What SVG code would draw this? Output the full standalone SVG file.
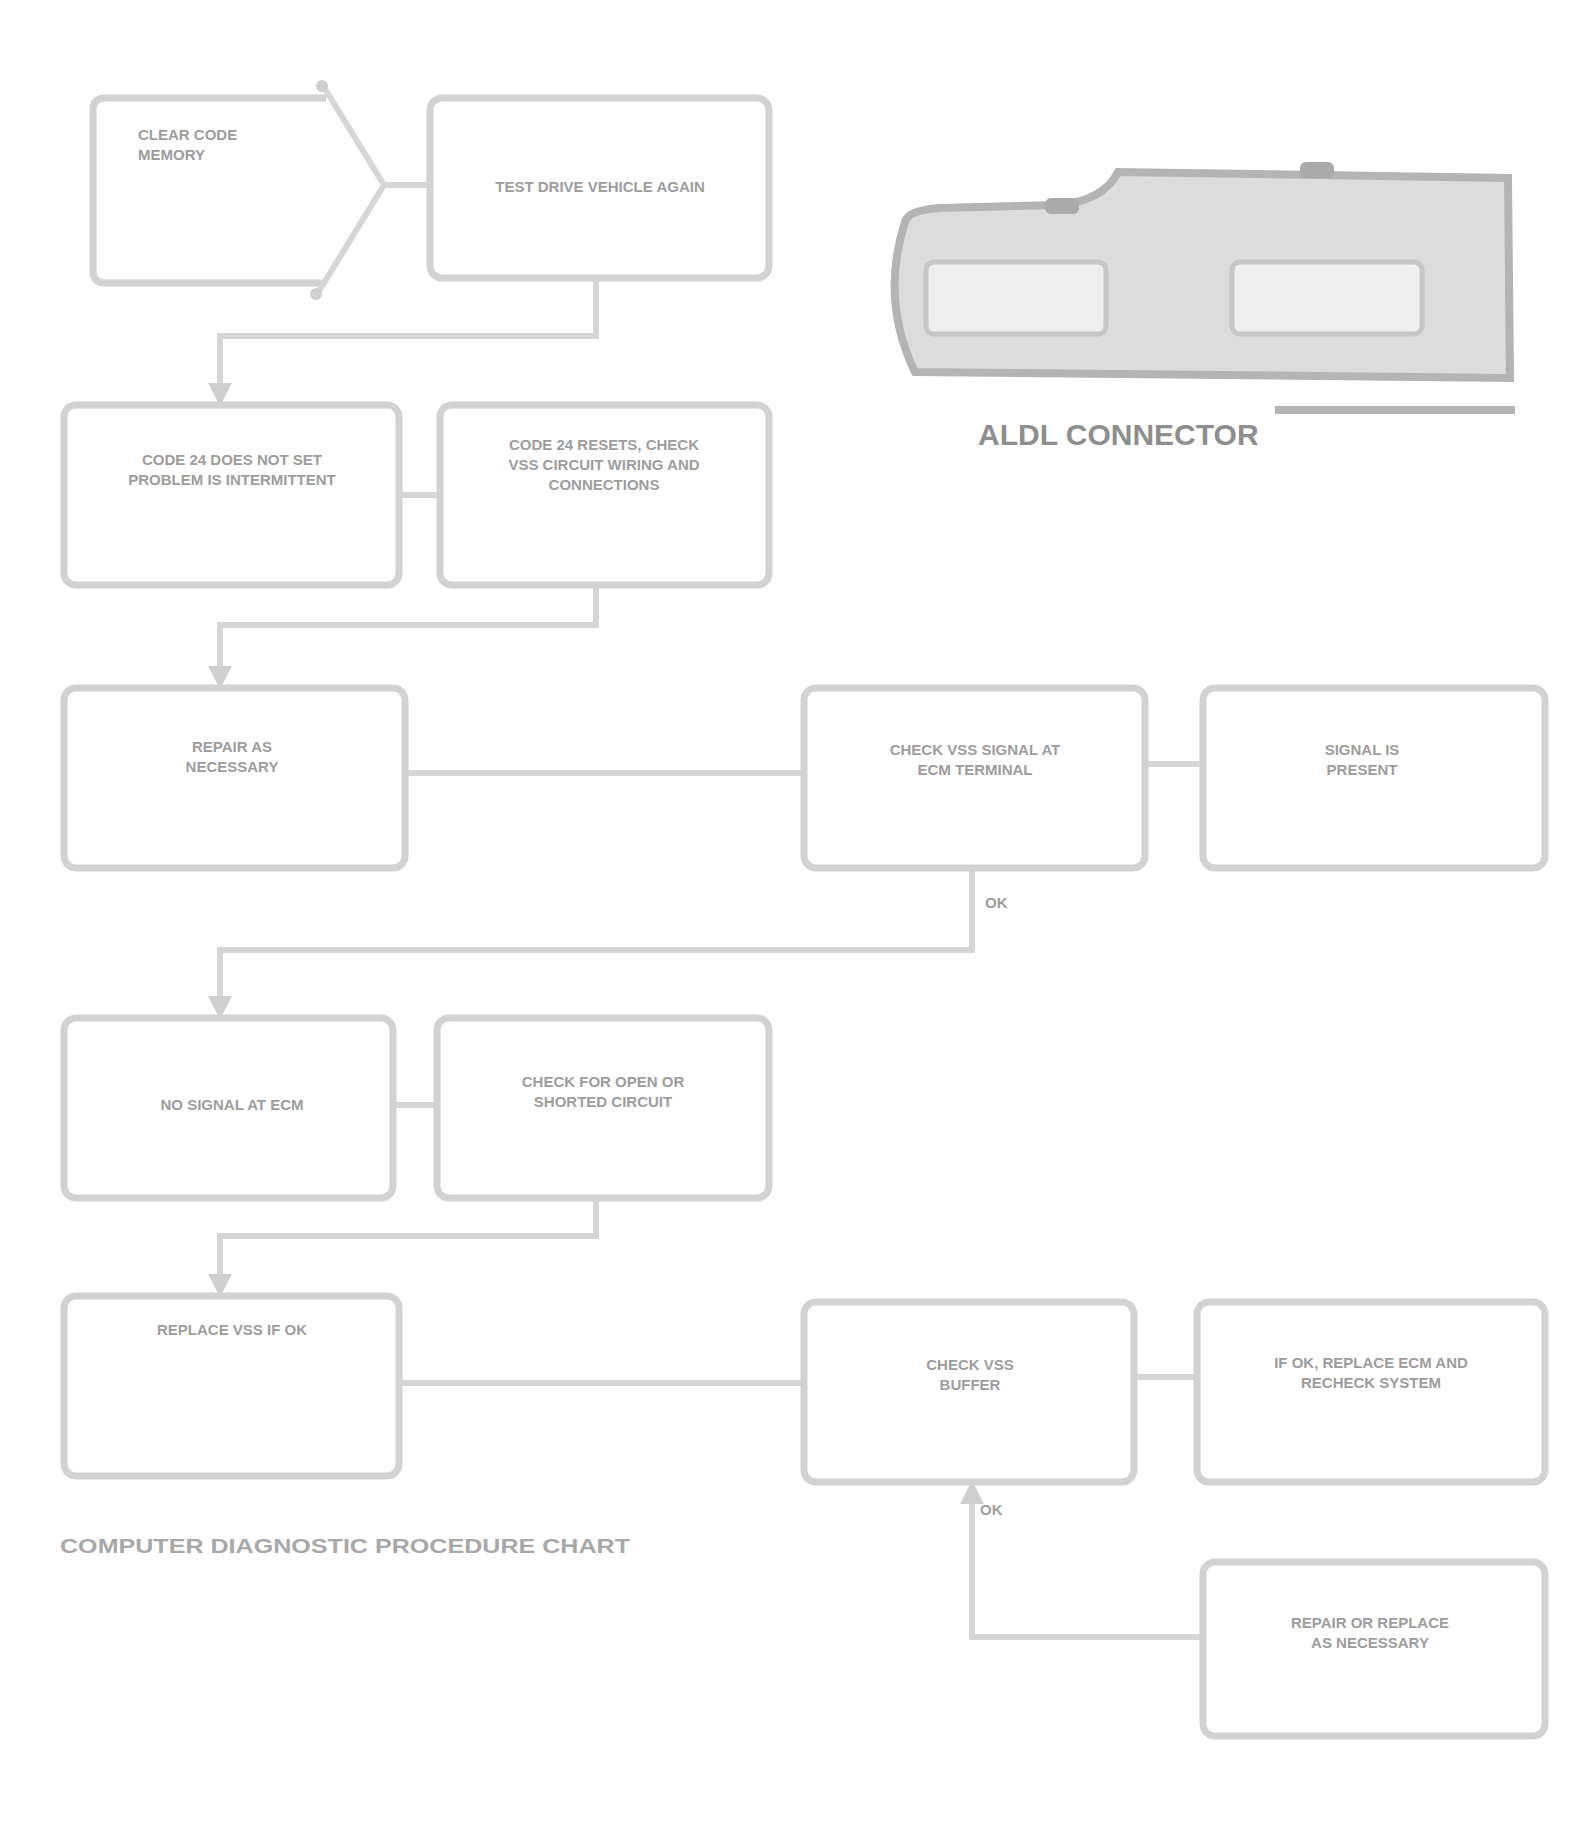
<svg xmlns="http://www.w3.org/2000/svg" width="1587" height="1821" viewBox="0 0 1587 1821">
<style>
.box{fill:#ffffff;stroke:#d2d2d2;stroke-width:7}
.ln{fill:none;stroke:#d6d6d6;stroke-width:6}
.t{font-family:"Liberation Sans",Arial,sans-serif;font-weight:bold;font-size:15px;fill:#9d9d9d;text-anchor:middle}
.tl{font-family:"Liberation Sans",Arial,sans-serif;font-weight:bold;font-size:15px;fill:#9d9d9d}
.cap{font-family:"Liberation Sans",Arial,sans-serif;font-weight:bold;font-size:21px;fill:#a8a8a8}
.lab{font-family:"Liberation Sans",Arial,sans-serif;font-weight:bold;font-size:30px;fill:#8e8e8e}
</style>
<defs>
<marker id="arr" viewBox="0 0 10 10" refX="8" refY="5" markerWidth="4" markerHeight="4" orient="auto">
<path d="M0,0 L10,5 L0,10 Z" fill="#cfcfcf"/>
</marker>
</defs>
<rect width="1587" height="1821" fill="#ffffff"/>

<g id="connectors">
<path class="ln" d="M384,185 H430"/>
<path class="ln" d="M596,278 V336 H220 V402" marker-end="url(#arr)"/>
<path class="ln" d="M399,495 H440"/>
<path class="ln" d="M596,584 V625 H220 V685" marker-end="url(#arr)"/>
<path class="ln" d="M405,773 H804"/>
<path class="ln" d="M1145,764 H1203"/>
<path class="ln" d="M972,868 V950 H220 V1015" marker-end="url(#arr)"/>
<path class="ln" d="M393,1105 H437"/>
<path class="ln" d="M596,1197 V1236 H220 V1293" marker-end="url(#arr)"/>
<path class="ln" d="M399,1383 H804"/>
<path class="ln" d="M1134,1377 H1197"/>
<path class="ln" d="M1203,1637 H972 V1485" marker-end="url(#arr)"/>
<text class="tl" x="985" y="908">OK</text>
<text class="tl" x="980" y="1515">OK</text>
</g>

<g id="nodeA">
<path class="box" d="M326,98 H105 Q93,98 93,110 V271 Q93,283 105,283 H322"/>
<polyline class="ln" points="322,84 384,185 316,296"/>
<circle cx="322" cy="86" r="6" fill="#cfcfcf"/>
<circle cx="316" cy="294" r="6" fill="#cfcfcf"/>
<text class="tl" x="138" y="140">CLEAR CODE</text>
<text class="tl" x="138" y="160">MEMORY</text>
</g>

<g id="nodeB">
<rect class="box" x="430" y="98" width="339" height="180" rx="12"/>
<text class="t" x="600" y="192">TEST DRIVE VEHICLE AGAIN</text>
</g>

<g id="nodeC">
<rect class="box" x="64" y="405" width="335" height="180" rx="12"/>
<text class="t" x="232" y="465">CODE 24 DOES NOT SET</text>
<text class="t" x="232" y="485">PROBLEM IS INTERMITTENT</text>
</g>

<g id="nodeD">
<rect class="box" x="440" y="405" width="329" height="180" rx="12"/>
<text class="t" x="604" y="450">CODE 24 RESETS, CHECK</text>
<text class="t" x="604" y="470">VSS CIRCUIT WIRING AND</text>
<text class="t" x="604" y="490">CONNECTIONS</text>
</g>

<g id="nodeE">
<rect class="box" x="64" y="688" width="341" height="180" rx="12"/>
<text class="t" x="232" y="752">REPAIR AS</text>
<text class="t" x="232" y="772">NECESSARY</text>
</g>

<g id="nodeF">
<rect class="box" x="804" y="688" width="341" height="180" rx="12"/>
<text class="t" x="975" y="755">CHECK VSS SIGNAL AT</text>
<text class="t" x="975" y="775">ECM TERMINAL</text>
</g>

<g id="nodeG">
<rect class="box" x="1203" y="688" width="342" height="180" rx="12"/>
<text class="t" x="1362" y="755">SIGNAL IS</text>
<text class="t" x="1362" y="775">PRESENT</text>
</g>

<g id="nodeH">
<rect class="box" x="64" y="1018" width="329" height="180" rx="12"/>
<text class="t" x="232" y="1110">NO SIGNAL AT ECM</text>
</g>

<g id="nodeI">
<rect class="box" x="437" y="1018" width="332" height="180" rx="12"/>
<text class="t" x="603" y="1087">CHECK FOR OPEN OR</text>
<text class="t" x="603" y="1107">SHORTED CIRCUIT</text>
</g>

<g id="nodeJ">
<rect class="box" x="64" y="1296" width="335" height="180" rx="12"/>
<text class="t" x="232" y="1335">REPLACE VSS IF OK</text>
</g>

<g id="nodeK">
<rect class="box" x="804" y="1302" width="330" height="180" rx="12"/>
<text class="t" x="970" y="1370">CHECK VSS</text>
<text class="t" x="970" y="1390">BUFFER</text>
</g>

<g id="nodeL">
<rect class="box" x="1197" y="1302" width="348" height="180" rx="12"/>
<text class="t" x="1371" y="1368">IF OK, REPLACE ECM AND</text>
<text class="t" x="1371" y="1388">RECHECK SYSTEM</text>
</g>

<g id="nodeM">
<rect class="box" x="1203" y="1562" width="342" height="174" rx="12"/>
<text class="t" x="1370" y="1628">REPAIR OR REPLACE</text>
<text class="t" x="1370" y="1648">AS NECESSARY</text>
</g>

<g id="aldl">
<path d="M905,222 Q880,300 915,372 L1510,378 L1508,178 L1118,172 Q1104,200 1060,205 L940,208 Q908,210 905,222 Z" fill="#dcdcdc" stroke="#b4b4b4" stroke-width="8"/>
<rect x="926" y="262" width="180" height="72" rx="8" fill="#efefef" stroke="#c6c6c6" stroke-width="5"/>
<rect x="1232" y="262" width="190" height="72" rx="8" fill="#efefef" stroke="#c6c6c6" stroke-width="5"/>
<rect x="1045" y="198" width="34" height="16" rx="6" fill="#aaaaaa"/>
<rect x="1300" y="162" width="34" height="16" rx="6" fill="#aaaaaa"/>
<line x1="1275" y1="410" x2="1515" y2="410" stroke="#b4b4b4" stroke-width="8"/>
<text class="lab" x="978" y="445">ALDL CONNECTOR</text>
</g>

<text class="cap" x="60" y="1553" textLength="570" lengthAdjust="spacingAndGlyphs">COMPUTER DIAGNOSTIC PROCEDURE CHART</text>
</svg>
